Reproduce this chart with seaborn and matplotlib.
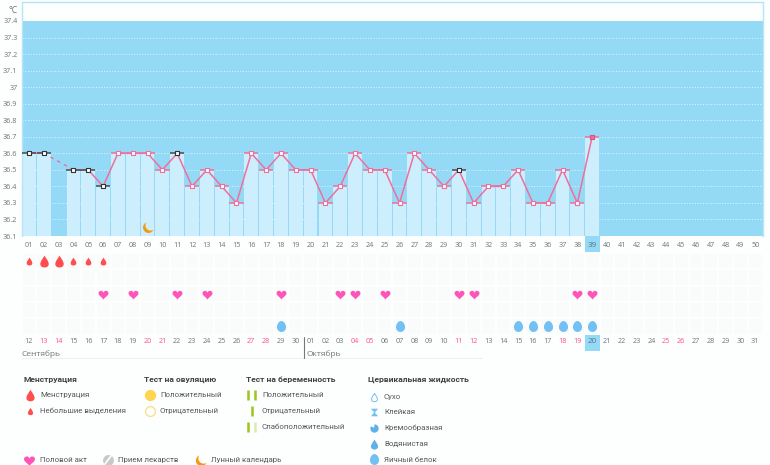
import matplotlib
matplotlib.use("Agg")
import matplotlib.pyplot as plt
import numpy as np
import pandas as pd
import seaborn as sns
from matplotlib.path import Path
from matplotlib.transforms import blended_transform_factory

sns.set_theme(style="white")
plt.rcParams["font.family"] = ["Open Sans", "DejaVu Sans"]

# ── Data ────────────────────────────────────────────────────────────────────
day_labels = [f"{d:02d}" for d in range(1, 51)]
temps = [36.6, 36.6, None, 36.5, 36.5, 36.4, 36.6, 36.6, 36.6, 36.5,
         36.6, 36.4, 36.5, 36.4, 36.3, 36.6, 36.5, 36.6, 36.5, 36.5,
         36.3, 36.4, 36.6, 36.5, 36.5, 36.3, 36.6, 36.5, 36.4, 36.5,
         36.3, 36.4, 36.4, 36.5, 36.3, 36.3, 36.5, 36.3, 36.7]
excluded_days = [1, 2, 4, 5, 6, 11, 30]
current_day = 39

y_ticks = [36.1, 36.2, 36.3, 36.4, 36.5, 36.6, 36.7, 36.8, 36.9, 37.0, 37.1, 37.2, 37.3, 37.4]
y_labels = ["36.1", "36.2", "36.3", "36.4", "36.5", "36.6", "36.7", "36.8", "36.9", "37",
            "37.1", "37.2", "37.3", "37.4"]

date_labels = [f"{d:02d}" for d in list(range(12, 31)) + list(range(1, 32))]
weekend_days = [2, 3, 9, 10, 16, 17, 23, 24, 30, 31, 37, 38, 44, 45]

big_drop_days = [2, 3]
small_drop_days = [1, 4, 5, 6]
heart_days = [6, 8, 11, 13, 18, 22, 23, 25, 30, 31, 38, 39]
egg_white_days = [18, 26, 34, 35, 36, 37, 38, 39]
moon_days = [9]

# ── Colours ─────────────────────────────────────────────────────────────────
SKY = "#94DAF6"
BAR = "#CDEEFD"
PINK = "#EF6F9C"
GREY = "#6f7478"
RED = "#FF4D4D"
HEART = "#FF55B8"
EGG = "#73C0F4"
MOON = "#F39A12"
YELLOW = "#FFD54F"
GREEN = "#9CC61F"
PAGE = "#FDFEFE"


# ── Marker shapes ───────────────────────────────────────────────────────────
def closed_path(xs, ys):
    pts = np.column_stack([xs, ys])
    pts = np.vstack([pts, pts[0]])
    codes = [Path.MOVETO] + [Path.LINETO] * (len(pts) - 2) + [Path.CLOSEPOLY]
    return Path(pts, codes)


t = np.linspace(0, 2 * np.pi, 60)
HEART_M = closed_path(np.sin(t) ** 3,
                      (13 * np.cos(t) - 5 * np.cos(2 * t) - 2 * np.cos(3 * t) - np.cos(4 * t)) / 16)
DROP_M = closed_path(np.sin(t) * np.sin(t / 2) ** 1.5, np.cos(t))
EGG_M = closed_path(0.82 * np.sin(t) * (1 - 0.12 * np.cos(t)), np.cos(t))
# crescent: outer circle with a circle cut out towards the upper right
outer = np.radians(np.linspace(115, 335, 40))
inner = np.radians(np.linspace(302, 148, 40))
MOON_M = closed_path(np.r_[np.cos(outer), 0.4 + 0.96 * np.cos(inner)],
                     np.r_[np.sin(outer), 0.4 + 0.96 * np.sin(inner)])
STICKY_M = closed_path([-.8, .8, .8, .2, .2, .8, .8, -.8, -.8, -.2, -.2, -.8],
                       [1, 1, .75, .2, -.2, -.75, -1, -1, -.75, -.2, .2, .75])
blob = np.radians(np.linspace(150, 450, 40))
CREAM_M = closed_path(np.r_[np.cos(blob), -0.1], np.r_[np.sin(blob), 0.2])


def draw_marks(ax, xs, ys, marker, size, color):
    sns.scatterplot(x=xs, y=ys, marker=marker, s=size, color=color, linewidth=0,
                    ax=ax, clip_on=False, zorder=5, legend=False)


# ── Figure ──────────────────────────────────────────────────────────────────
W, H = 770, 465
fig = plt.figure(figsize=(W / 100, H / 100), dpi=100, facecolor=PAGE)


def px_axes(left, top, right, bottom):
    return fig.add_axes([left / W, 1 - bottom / H, (right - left) / W, (bottom - top) / H])


LEFT, RIGHT = 21.6, 762.6

# Temperature chart
ax = px_axes(LEFT, 2.5, RIGHT, 236)
ax.set_facecolor(PAGE)
ax.axhspan(36.1, 37.4, color=SKY, lw=0, zorder=0)

df = pd.DataFrame({"day": range(1, len(temps) + 1), "label": day_labels[:len(temps)],
                   "temp": pd.to_numeric(pd.Series(temps))})
sns.barplot(data=df, x="label", y="temp", order=day_labels, color=BAR, saturation=1,
            width=0.93, ax=ax, zorder=1, errorbar=None, linewidth=0)
ax.set_xlim(-0.5, 49.5)
ax.set_ylim(36.1, 36.1 + 233.5 / 165.4)
for v in y_ticks[1:-1]:
    ax.axhline(v, color="white", lw=0.7, ls=(0, (1, 1.8)), alpha=0.7, zorder=0.5)

df["pos"] = df["day"] - 1
measured = df.dropna(subset=["temp"]).copy()
measured["segment"] = (measured["day"] > 3).astype(int)
sns.lineplot(data=measured, x="pos", y="temp", hue="segment", palette=[PINK, PINK],
             lw=1.1, ax=ax, legend=False, zorder=3, estimator=None)
gap = measured[measured["day"].isin([2, 4])]
sns.lineplot(data=gap, x="pos", y="temp", color=PINK, lw=1.0, ax=ax, legend=False, zorder=3,
             estimator=None, linestyle=(0, (2.5, 3)))

for _, row in measured.iterrows():
    is_excl = row["day"] in excluded_days
    ax.hlines(row["temp"], row["pos"] - 0.48, row["pos"] + 0.48, zorder=3.5, lw=1.1,
              color="#4a4a4a" if is_excl else PINK)

normal = measured[~measured["day"].isin(excluded_days)]
normal = normal[normal["day"] != current_day]
sns.scatterplot(data=normal, x="pos", y="temp", marker="s", s=7, color="white",
                edgecolor=PINK, linewidth=0.8, ax=ax, zorder=4, legend=False)
sns.scatterplot(data=measured[measured["day"].isin(excluded_days)], x="pos", y="temp", marker="s",
                s=7, color="white", edgecolor="#333333", linewidth=0.8, ax=ax, zorder=4, legend=False)
sns.scatterplot(data=measured[measured["day"] == current_day], x="pos", y="temp", marker="s",
                s=7, color=PINK, edgecolor="#D9537F", linewidth=0.8, ax=ax, zorder=4, legend=False)

draw_marks(ax, [d - 1 for d in moon_days], [36.155] * len(moon_days), MOON_M, 62, MOON)

ax.set_xticks(range(50))
ax.set_xticklabels(day_labels, fontsize=5.2, color=GREY)
ax.set_yticks(y_ticks)
ax.set_yticklabels(y_labels, fontsize=5.2, color=GREY)
ax.tick_params(length=0, pad=3)
ax.tick_params(axis="x", pad=4)
ax.set_xlabel("")
ax.set_ylabel("")
for name, spine in ax.spines.items():
    spine.set_color("#B5E5F8")
    spine.set_linewidth(1.0)
ax.spines["bottom"].set_visible(False)
ax.text(-0.006, 0.985, "°C", transform=ax.transAxes, ha="right", va="top", fontsize=6.2, color=GREY)

# highlight of the current day under the chart
trans = blended_transform_factory(ax.transData, ax.transAxes)
ax.add_patch(plt.Rectangle((current_day - 1.5, -16 / 233.5), 1, 16 / 233.5, transform=trans,
                           facecolor=SKY, lw=0, clip_on=False, zorder=-1))
hl = ax.get_xticklabels()[current_day - 1]
hl.set_fontsize(5.8)
hl.set_color("#55707f")

# Symbol rows
sym = px_axes(LEFT, 253, RIGHT, 334.5)
sns.heatmap(np.zeros((5, 50)), cmap=["#FAFBFB"], linewidths=1.2, linecolor=PAGE,
            cbar=False, ax=sym)
draw_marks(sym, [d - 0.5 for d in big_drop_days], [0.5] * len(big_drop_days), DROP_M, 74, RED)
draw_marks(sym, [d - 0.5 for d in small_drop_days], [0.5] * len(small_drop_days), DROP_M, 33, RED)
draw_marks(sym, [d - 0.5 for d in heart_days], [2.5] * len(heart_days), HEART_M, 58, HEART)
draw_marks(sym, [d - 0.5 for d in egg_white_days], [4.5] * len(egg_white_days), EGG_M, 62, EGG)

sym.set_xlim(0, 50)
sym.set_ylim(5, 0)
sym.set_yticks([])
sym.set_xticks(np.arange(50) + 0.5)
sym.set_xticklabels(date_labels, rotation=0, fontsize=5.2)
sym.tick_params(length=0, pad=2.5)
for i, lab in enumerate(sym.get_xticklabels()):
    lab.set_color("#FF4F86" if i + 1 in weekend_days else GREY)

trans = blended_transform_factory(sym.transData, sym.transAxes)
sym.add_patch(plt.Rectangle((current_day - 1, -16 / 81.5), 1, 16 / 81.5, transform=trans,
                            facecolor=SKY, lw=0, clip_on=False, zorder=-1))
hl = sym.get_xticklabels()[current_day - 1]
hl.set_fontsize(5.8)
hl.set_color("#55707f")

# Overlay in pixel coordinates: months and legend
over = fig.add_axes([0, 0, 1, 1])
over.set_xlim(0, W)
over.set_ylim(H, 0)
over.axis("off")
over.patch.set_alpha(0)

over.plot([22, 482], [358, 358], color="#EEF0F1", lw=0.8)
over.plot([303.5, 303.5], [337, 358], color="#777777", lw=0.8)
over.text(22, 354, "Сентябрь", fontsize=6.0, color=GREY, va="center")
over.text(306.5, 354, "Октябрь", fontsize=6.0, color=GREY, va="center")

TEXT = "#555a5e"
HEAD = "#3f4346"
for x, label in [(24, "Менструация"), (144, "Тест на овуляцию"),
                 (246, "Тест на беременность"), (368, "Цервикальная жидкость")]:
    over.text(x, 379.5, label, fontsize=6.1, fontweight="bold", color=HEAD, va="center",
              family=["Roboto", "DejaVu Sans"])

legend_texts = [
    (40, 395, "Менструация"), (40, 411, "Небольшие выделения"),
    (160, 395, "Положительный"), (160, 411, "Отрицательный"),
    (262, 395, "Положительный"), (262, 411, "Отрицательный"), (262, 427, "Слабоположительный"),
    (384, 397, "Сухо"), (384, 412, "Клейкая"), (384, 428, "Кремообразная"),
    (384, 444, "Водянистая"), (384, 459.5, "Яичный белок"),
    (40, 460, "Половой акт"), (118, 460, "Прием лекарств"), (211, 460, "Лунный календарь"),
]
for x, y, label in legend_texts:
    over.text(x, y, label, fontsize=5.65, color=TEXT, va="center", family=["Roboto", "DejaVu Sans"])

over.scatter([30], [395], marker=DROP_M, s=70, color=RED, linewidth=0)
over.scatter([30], [411], marker=DROP_M, s=28, color=RED, linewidth=0)
over.scatter([150], [395], marker="o", s=66, color=YELLOW, linewidth=0)
over.scatter([150], [411], marker="o", s=50, facecolor=PAGE, edgecolor="#F6DE8A", linewidth=0.9)
for x, y, c in [(248, 395, GREEN), (255, 395, GREEN), (251.5, 411, GREEN),
                (248, 427, GREEN), (255, 427, "#DDEBB0")]:
    over.plot([x, x], [y - 5, y + 5], color=c, lw=1.8, solid_capstyle="butt")
over.scatter([374], [397], marker=DROP_M, s=36, facecolor=PAGE, edgecolor=EGG, linewidth=0.7)
over.scatter([374], [412], marker=STICKY_M, s=30, color=EGG, linewidth=0)
over.scatter([374], [428], marker=CREAM_M, s=36, color="#5FB1E8", linewidth=0)
over.scatter([374], [444], marker=DROP_M, s=52, color="#5FB1E8", linewidth=0)
over.scatter([374], [459], marker=EGG_M, s=62, color=EGG, linewidth=0)
over.scatter([29], [460], marker=HEART_M, s=70, color=HEART, linewidth=0)
over.scatter([108], [460], marker="o", s=62, color="#C9C9C9", linewidth=0)
over.plot([105, 111], [464, 456], color="white", lw=1.2)
over.scatter([201], [460], marker=MOON_M, s=65, color=MOON, linewidth=0)

fig.savefig("out.png", dpi=100, facecolor=fig.get_facecolor())
